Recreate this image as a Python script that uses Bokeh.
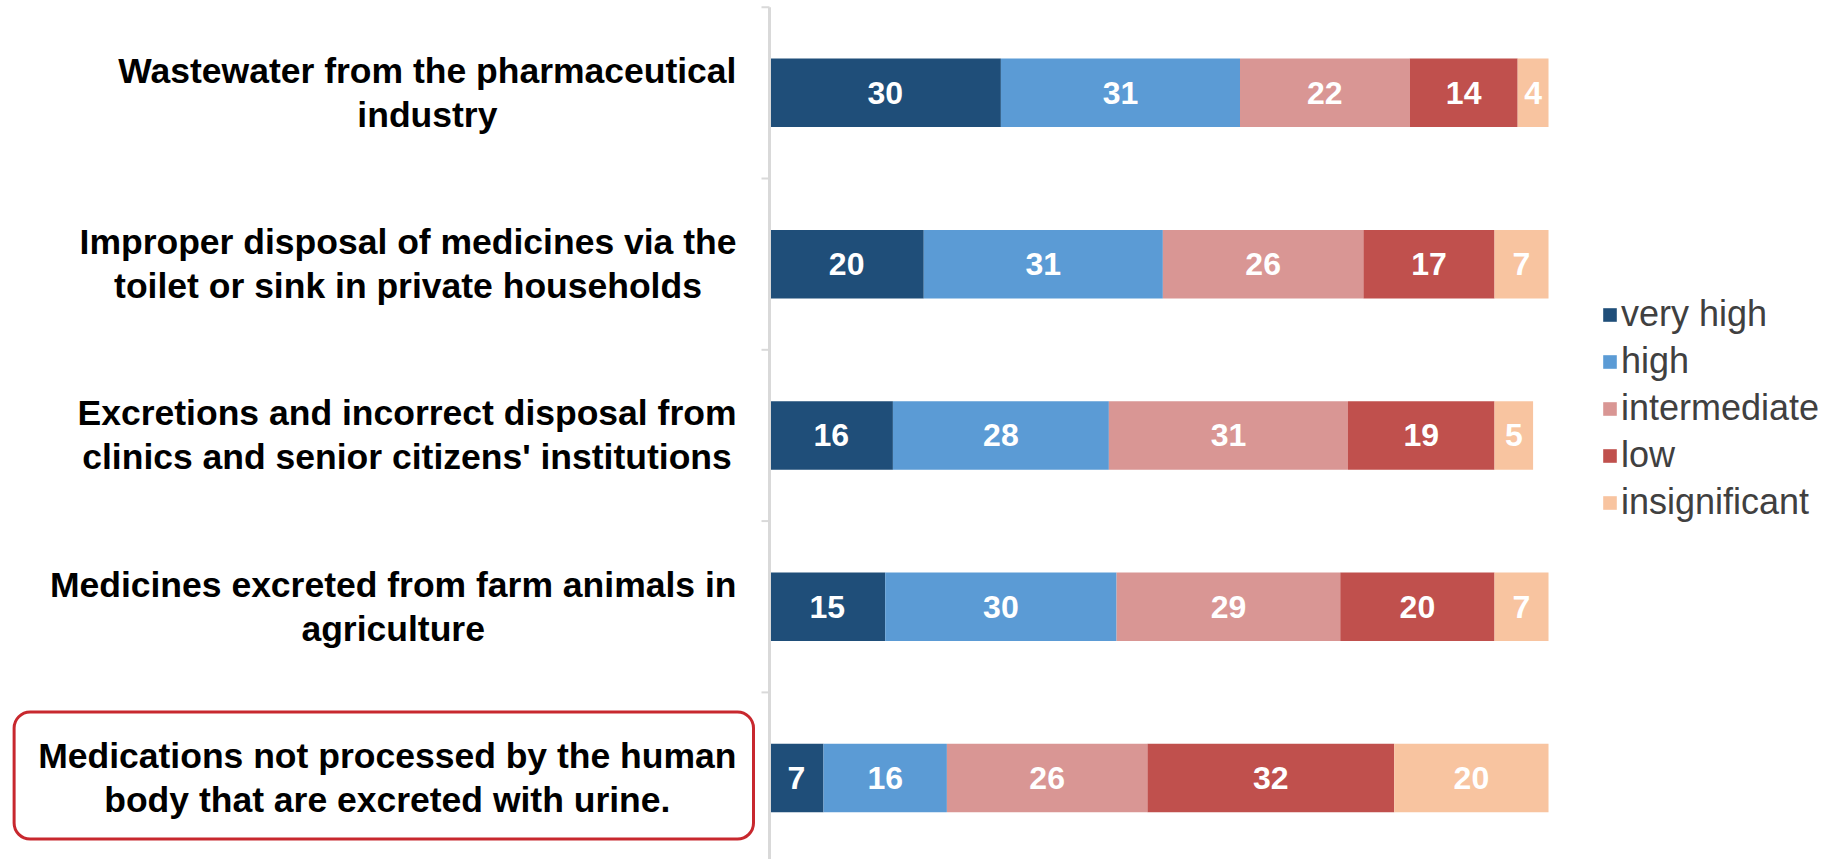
import numpy as np
from bokeh.plotting import figure
from bokeh.models import ColumnDataSource, Range1d, Legend, LegendItem
from bokeh.core.properties import value
from bokeh.embed import file_html
from bokeh.resources import INLINE

# ---------------- data ----------------
categories = [
    "Wastewater from the pharmaceutical\nindustry",
    "Improper disposal of medicines via the\ntoilet or sink in private households",
    "Excretions and incorrect disposal from\nclinics and senior citizens' institutions",
    "Medicines excreted from farm animals in\nagriculture",
    "Medications not processed by the human\nbody that are excreted with urine.",
]
levels = ["very high", "high", "intermediate", "low", "insignificant"]
very_high = [30, 20, 16, 15, 7]
high = [31, 31, 28, 30, 16]
intermediate = [22, 26, 31, 29, 26]
low = [14, 17, 19, 20, 32]
insignificant = [4, 7, 5, 7, 20]
highlighted = [False, False, False, False, True]

# ---------------- style / layout ----------------
colors = ["#1F4E79", "#5B9BD5", "#D99694", "#C0504D", "#F8C4A0"]
W, H = 1821, 859
AXIS_PX = 769          # screen x of the category axis
PX_PER_UNIT = 7.713    # horizontal scale
BAND_PX = 171.3        # height of one category band
TOP_PX = 6.7           # gap above first band
BAR_H = 0.40
LABEL_FONT = "Liberation Sans"
LABEL_SIZE = 35.5
LINE_PX = 44
GAP_PX = 33
TICK_PX = 8

ARIAL_BOLD = {
    " ": 278, "'": 238, ".": 278, "a": 556, "b": 611, "c": 556, "d": 611, "e": 556,
    "f": 333, "g": 611, "h": 611, "i": 278, "j": 278, "k": 556, "l": 278, "m": 889,
    "n": 611, "o": 611, "p": 611, "q": 611, "r": 389, "s": 556, "t": 333, "u": 611,
    "v": 556, "w": 778, "x": 556, "y": 556, "z": 500, "E": 667, "I": 278, "M": 833,
    "W": 944,
}


def text_width(s, size):
    try:
        from PIL import ImageFont
        f = ImageFont.truetype("LiberationSans-Bold.ttf", size)
        return f.getlength(s)
    except Exception:
        return sum(ARIAL_BOLD.get(c, 556) for c in s) * size / 1000.0


n = len(categories)
ypos = [n - i - 0.5 for i in range(n)]
y_top = n + TOP_PX / BAND_PX

p = figure(
    width=W, height=H,
    x_range=Range1d(-AXIS_PX / PX_PER_UNIT, (W - AXIS_PX) / PX_PER_UNIT),
    y_range=Range1d(y_top - H / BAND_PX, y_top),
    output_backend="svg", toolbar_location=None,
    x_axis_location=None, y_axis_location=None,
    min_border=0,
)
p.grid.visible = False
p.outline_line_color = None
p.background_fill_color = "white"
p.border_fill_color = "white"

series = dict(zip(levels, [very_high, high, intermediate, low, insignificant]))
source = ColumnDataSource(dict(y=ypos, **series))

renderers = p.hbar_stack(levels, y="y", height=BAR_H, fill_color=colors,
                         line_color=None, source=source)

# value labels in the middle of each segment
vals = np.array([series[l] for l in levels], dtype=float)  # (levels, cats)
cum = np.cumsum(vals, axis=0)
mid = cum - vals / 2.0
lab_x, lab_y, lab_t = [], [], []
for li in range(len(levels)):
    for ci in range(n):
        lab_x.append(mid[li, ci])
        lab_y.append(ypos[ci])
        lab_t.append(str(int(vals[li, ci])))
p.text(x="x", y="y", text="t",
       source=ColumnDataSource(dict(x=lab_x, y=lab_y, t=lab_t)),
       text_color="white", text_font=value(LABEL_FONT), text_font_style="bold",
       text_font_size="32px", text_align="center", text_baseline="middle")

# axis line and tick marks between bands
p.segment(x0=[0], x1=[0], y0=[0], y1=[n], line_color="#D9D9D9", line_width=3)
bounds = list(range(n + 1))
p.segment(x0=[-TICK_PX / PX_PER_UNIT] * len(bounds), x1=[0] * len(bounds),
          y0=bounds, y1=bounds, line_color="#D9D9D9", line_width=2)

# category labels: centred lines, block right-aligned next to the axis
cx, cy, cxo, cyo, ct = [], [], [], [], []
box = dict(left=[], right=[], top=[], bottom=[])
for ci, cat in enumerate(categories):
    lines = cat.split("\n")
    bw = max(text_width(s, LABEL_SIZE) for s in lines)
    centre = -(GAP_PX + bw / 2.0)
    for j, s in enumerate(lines):
        cx.append(0)
        cy.append(ypos[ci])
        cxo.append(centre)
        cyo.append((j - (len(lines) - 1) / 2.0) * LINE_PX)
        ct.append(s)
    if highlighted[ci]:
        box["left"].append(-(GAP_PX + bw + 24) / PX_PER_UNIT)
        box["right"].append(-(GAP_PX - 17) / PX_PER_UNIT)
        box["top"].append(ypos[ci] + 66 / BAND_PX)
        box["bottom"].append(ypos[ci] - 61 / BAND_PX)

p.quad(source=ColumnDataSource(box), left="left", right="right", top="top",
       bottom="bottom", fill_color=None, line_color="#C8282E", line_width=3,
       border_radius=16)

p.text(x="x", y="y", text="t", x_offset="xo", y_offset="yo",
       source=ColumnDataSource(dict(x=cx, y=cy, xo=cxo, yo=cyo, t=ct)),
       text_color="#000000", text_font=value(LABEL_FONT), text_font_style="bold",
       text_font_size=f"{LABEL_SIZE}px", text_align="center", text_baseline="middle")

legend = Legend(
    items=[LegendItem(label=l, renderers=[r]) for l, r in zip(levels, renderers)],
    location=(1601, 336),
    border_line_color=None, background_fill_alpha=0,
    padding=0, margin=0, spacing=5,
    glyph_width=17, glyph_height=17, label_standoff=3,
    label_height=41,
    label_text_font=LABEL_FONT, label_text_font_size="36px",
    label_text_color="#404040",
)
p.add_layout(legend)

open("out.html", "w").write(file_html(p, INLINE))
